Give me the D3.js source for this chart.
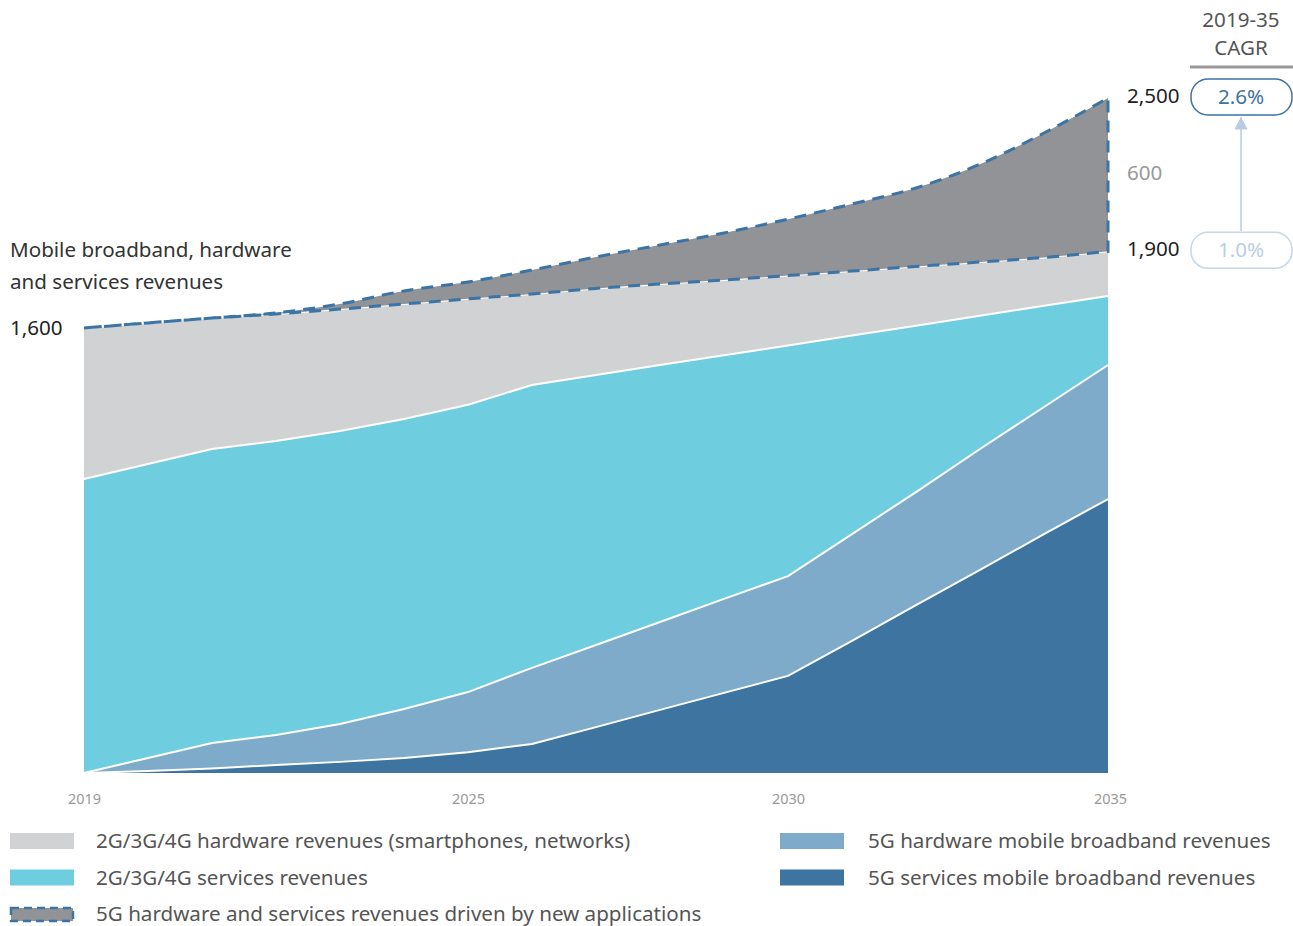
<!DOCTYPE html>
<html>
<head>
<meta charset="utf-8">
<script src="https://cdn.jsdelivr.net/npm/d3@7"></script>
<style>
  html, body { margin: 0; padding: 0; background: #fff; }
  svg { display: block; font-family: "Noto Sans", "Open Sans", sans-serif; }
</style>
</head>
<body>
<svg id="chart" width="1293" height="926"></svg>
<script>
// ---- Data (USD billions) ----
const years = [2019,2020,2021,2022,2023,2024,2025,2026,2027,2028,2029,2030,2031,2032,2033,2034,2035];
const services5G  = [0,7,16,29,40,54,75,104,165,227,288,349,475,604,730,859,985];
const hardware5G  = [0,47,92,108,136,176,216,274,295,316,338,359,384,406,435,457,482];
const services234 = [1057,1057,1057,1057,1054,1043,1033,1017,971,924,876,829,714,599,483,371,258];
const hardware234 = [543,509,474,461,444,421,390,338,324,305,286,268,250,232,210,189,175];
const newApps     = [0,0,0,4,20,51,66,94,123,153,184,221,262,307,383,487,600];

const tickYears = [2019, 2025, 2030, 2035];
const seriesKeys = ["services5G","hardware5G","services234","hardware234","newApps"];
const seriesColors = {
  services5G: "#3e74a0",
  hardware5G: "#7fabca",
  services234: "#6fcde0",
  hardware234: "#d1d2d4",
  newApps: "#929397"
};
const legendItems = [
  {key:"hardware234", label:"2G/3G/4G hardware revenues (smartphones, networks)", col:0, row:0},
  {key:"services234", label:"2G/3G/4G services revenues", col:0, row:1},
  {key:"newApps", label:"5G hardware and services revenues driven by new applications", col:0, row:2},
  {key:"hardware5G", label:"5G hardware mobile broadband revenues", col:1, row:0},
  {key:"services5G", label:"5G services mobile broadband revenues", col:1, row:1}
];
const titleLines = ["Mobile broadband, hardware", "and services revenues"];
const startLabel = "1,600";
const endLabels = [{v:2500, t:"2,500", c:"#222"}, {v:1900, t:"1,900", c:"#222"}];
const diffLabel = {t:"600", c:"#999"};
const cagrHeader = ["2019-35", "CAGR"];
const cagrValues = [{v:2500, t:"2.6%", stroke:"#3d73a3", fill:"#3d73a3"}, {v:1900, t:"1.0%", stroke:"#c6d8e7", fill:"#b9cfe2"}];

const FS = 20.6;

// ---- Build table ----
const table = years.map((y,i) => ({
  year: y,
  services5G: services5G[i],
  hardware5G: hardware5G[i],
  services234: services234[i],
  hardware234: hardware234[i],
  newApps: newApps[i]
}));

const svg = d3.select("#chart");
const x = d3.scaleLinear().domain([2019, 2035]).range([84, 1108]);
// The original chart's value axis is not drawn to a single scale; piecewise linear scale
const y = d3.scaleLinear().domain([0, 1600, 2500]).range([773, 328, 98]);

const stack = d3.stack().keys(seriesKeys);
const stacked = stack(table);

const area = d3.area()
  .x(d => x(d.data.year))
  .y0(d => y(d[0]))
  .y1(d => y(d[1]));

const smoothArea = d3.area()
  .curve(d3.curveMonotoneX)
  .x(d => x(d.data.year))
  .y0(d => y(d[0]))
  .y1(d => y(d[1]));

const line = d3.line()
  .x(d => x(d.data.year))
  .y(d => y(d[1]));

const g = svg.append("g");

// areas
g.selectAll("path.layer")
  .data(stacked.filter(s => s.key !== "newApps"))
  .join("path")
  .attr("class","layer")
  .attr("d", area)
  .attr("fill", s => seriesColors[s.key]);

// white separators
g.selectAll("path.sep")
  .data(stacked.filter(s => s.key !== "newApps"))
  .join("path")
  .attr("class","sep")
  .attr("d", line)
  .attr("fill","none")
  .attr("stroke","#fff")
  .attr("stroke-width",2);

// new apps layer with dashed outline
const na = stacked.find(s => s.key === "newApps");
g.append("path")
  .attr("d", smoothArea(na))
  .attr("fill", seriesColors.newApps);
g.append("path")
  .attr("d", smoothArea(na))
  .attr("fill", "none")
  .attr("stroke", "#3b74a5")
  .attr("stroke-width", 3)
  .attr("stroke-dasharray", "12,8");

// x axis labels
const xAxis = d3.axisBottom(x).tickValues(tickYears).tickFormat(d3.format("d")).tickSize(0).tickPadding(0);
const xg = svg.append("g").attr("transform", "translate(0,793)").call(xAxis);
xg.select(".domain").remove();
xg.selectAll("text").attr("font-size", 14.5).attr("fill", "#999").attr("font-family", "'Noto Sans', sans-serif").attr("dy", "0.75em");
xg.selectAll(".tick").filter(d => d === 2035).select("text").attr("dx", 2);

// title
svg.append("text").attr("x", 10).attr("y", 257).attr("font-size", FS).attr("fill", "#333").text(titleLines[0]);
svg.append("text").attr("x", 10).attr("y", 289).attr("font-size", FS).attr("fill", "#333").text(titleLines[1]);
svg.append("text").attr("x", 10).attr("y", y(1600) + 7).attr("font-size", FS).attr("fill", "#222").text(startLabel);

// end labels
endLabels.forEach(l => {
  svg.append("text").attr("x", 1127).attr("y", y(l.v) + 5).attr("font-size", FS).attr("fill", l.c).text(l.t);
});
svg.append("text").attr("x", 1127).attr("y", (y(2500) + y(1900)) / 2 + 5).attr("font-size", FS).attr("fill", diffLabel.c).text(diffLabel.t);

// CAGR header
svg.append("text").attr("x", 1241).attr("y", 27).attr("text-anchor","middle").attr("font-size", FS).attr("fill", "#555").text(cagrHeader[0]);
svg.append("text").attr("x", 1241).attr("y", 55).attr("text-anchor","middle").attr("font-size", FS).attr("fill", "#555").text(cagrHeader[1]);
svg.append("line").attr("x1", 1190).attr("x2", 1293).attr("y1", 67).attr("y2", 67).attr("stroke", "#999").attr("stroke-width", 3);

// arrow
svg.append("line").attr("x1",1241).attr("x2",1241).attr("y1", y(1900) - 20).attr("y2", y(2500) + 19)
  .attr("stroke","#b9cde0").attr("stroke-width",1.5);
svg.append("path")
  .attr("d", `M${1235},${y(2500) + 31} L1241,${y(2500) + 20} L1247,${y(2500) + 31} Z`)
  .attr("fill","#b9cde0").attr("stroke","#b9cde0").attr("stroke-width",1);

// CAGR boxes
cagrValues.forEach(c => {
  const cy = y(c.v) - 1;
  svg.append("rect").attr("x", 1191).attr("y", cy - 18).attr("width", 101).attr("height", 36).attr("rx", 17)
    .attr("fill", "#fff").attr("stroke", c.stroke).attr("stroke-width", 1.5);
  svg.append("text").attr("x", 1241).attr("y", cy + 7).attr("text-anchor","middle").attr("font-size", FS).attr("fill", c.fill).text(c.t);
});

// legend
const lg = svg.append("g");
legendItems.forEach(it => {
  const lx = it.col === 0 ? 10 : 780;
  const ly = 841 + it.row * 36.5;
  if (it.key === "newApps") {
    lg.append("rect").attr("x", lx + 1).attr("y", ly - 6).attr("width", 62).attr("height", 13)
      .attr("fill", seriesColors.newApps).attr("stroke", "#3b74a5").attr("stroke-width", 2.5).attr("stroke-dasharray", "8,5");
  } else {
    lg.append("rect").attr("x", lx).attr("y", ly - 8).attr("width", 64).attr("height", 16).attr("fill", seriesColors[it.key]);
  }
  lg.append("text").attr("x", lx + (it.col === 0 ? 86 : 88)).attr("y", ly + 7).attr("font-size", FS).attr("fill", "#555").text(it.label);
});
</script>
</body>
</html>
